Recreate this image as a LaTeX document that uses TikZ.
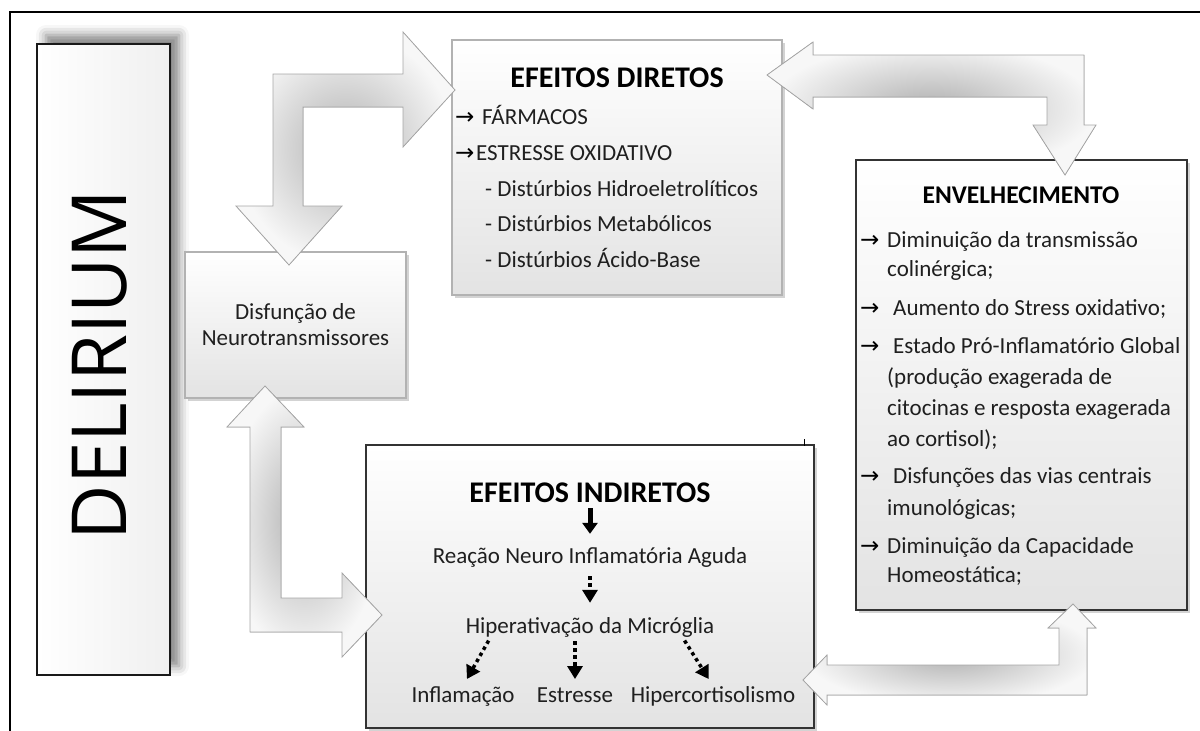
\documentclass[tikz,border=0pt]{standalone}
\usepackage{fontspec}
\setmainfont{Carlito}
\newfontfamily\delfont{Open Sans}
\newfontfamily\symfont{DejaVu Sans}
\usetikzlibrary{arrows.meta,shadows,shadows.blur}
\newcommand\seta{{\symfont →}}

\tikzset{
  caixa/.style={draw=gray!40!black, line width=1.2pt, top color=white, bottom color=gray!22,
    drop shadow={shadow xshift=3pt,shadow yshift=-3pt,opacity=.35}, inner sep=0pt},
  seta bloco/.style={draw=gray!70, line width=0.8pt, inner color=gray!62, outer color=gray!6},
  titulo/.style={font=\bfseries\fontsize{30}{36}\selectfont, anchor=base, inner sep=0pt},
  texto/.style={font=\fontsize{23}{28}\selectfont, text=black!88, anchor=base west, inner sep=0pt},
  seta txt/.style={font=\fontsize{23}{28}\selectfont, anchor=base west, inner sep=0pt},
  seta cheia/.style={line width=5pt, -{Triangle[length=11pt,width=15pt]}},
  seta pont/.style={line width=3.5pt, dash pattern=on 3.5pt off 3.5pt, -{Triangle[length=13pt,width=15pt]}}
}

\begin{document}
\begin{tikzpicture}[x=1pt,y=-1pt]
  \useasboundingbox (0,0) rectangle (1200,731);
  % moldura
  \draw[line width=1.5pt] (10,731) -- (10,12) -- (1200,12);

  % caixas
  \node[draw=gray!20!black, line width=1.2pt, left color=white, right color=gray!12,
    blur shadow={shadow xshift=9pt,shadow yshift=9pt,shadow blur radius=10pt,shadow opacity=50},
    minimum width=133pt, minimum height=631pt] (delirium) at (103.5,359.5) {};
  \node[rotate=90, font=\delfont\fontsize{76}{76}\selectfont, inner sep=0pt] (deltxt) at (100,365) {DELIRIUM};

  \node[caixa, draw=gray!60, minimum width=221pt, minimum height=146pt, align=center,
    font=\fontsize{23}{26}\selectfont, text=black!88] (neuro) at (295.5,325) {Disfunção de\\Neurotransmissores};
  \node[caixa, draw=gray!60, minimum width=330pt, minimum height=255pt] (diretos) at (617,167.5) {};
  \node[caixa, minimum width=331pt, minimum height=450pt] (envelh) at (1021.5,385) {};
  \node[caixa, minimum width=448pt, minimum height=283pt] (indiretos) at (590,586.5) {};
  \draw[line width=1pt] (804,439) -- (804,446);

  % efeitos diretos
  \node[titulo] (tDir) at (617,87) {EFEITOS DIRETOS};
  \node[seta txt] (d1a) at (455,124) {\seta};
  \node[texto] (d1) at (482,124) {FÁRMACOS};
  \node[seta txt] (d2a) at (455,160) {\seta};
  \node[texto] (d2) at (476,160) {ESTRESSE OXIDATIVO};
  \node[texto] (d3) at (485,196) {- Distúrbios Hidroeletrolíticos};
  \node[texto] (d4) at (485,231) {- Distúrbios Metabólicos};
  \node[texto] (d5) at (485,267) {- Distúrbios Ácido-Base};

  % envelhecimento
  \node[titulo, font=\bfseries\fontsize{25.5}{30}\selectfont] (tEnv) at (1021,203) {ENVELHECIMENTO};
  \node[seta txt] (e1a) at (860,247) {\seta};
  \node[texto] (e1) at (887,247) {Diminuição da transmissão};
  \node[texto] (e1b) at (887,276) {colinérgica;};
  \node[seta txt] (e2a) at (860,315) {\seta};
  \node[texto] (e2) at (893,315) {Aumento do Stress oxidativo;};
  \node[seta txt] (e3a) at (860,353) {\seta};
  \node[texto] (e3) at (893,353) {Estado Pró-Inflamatório Global};
  \node[texto] (e3b) at (887,384) {(produção exagerada de};
  \node[texto] (e3c) at (887,415) {citocinas e resposta exagerada};
  \node[texto] (e3d) at (887,446) {ao cortisol);};
  \node[seta txt] (e4a) at (860,483) {\seta};
  \node[texto] (e4) at (893,483) {Disfunções das vias centrais};
  \node[texto] (e4b) at (887,515) {imunológicas;};
  \node[seta txt] (e5a) at (860,553) {\seta};
  \node[texto] (e5) at (887,553) {Diminuição da Capacidade};
  \node[texto] (e5b) at (887,582) {Homeostática;};

  % efeitos indiretos
  \node[titulo] (tInd) at (590,502) {EFEITOS INDIRETOS};
  \node[texto, anchor=base] (reacao) at (590,563) {Reação Neuro Inflamatória Aguda};
  \node[texto, anchor=base] (micro) at (590,633) {Hiperativação da Micróglia};
  \node[texto, anchor=base] (infl) at (463,702) {Inflamação};
  \node[texto, anchor=base] (estr) at (575,702) {Estresse};
  \node[texto, anchor=base] (hiper) at (713,702) {Hipercortisolismo};
  \draw[seta cheia, shorten <=6pt, shorten >=13pt] (tInd) -- (reacao);
  \draw[seta pont, shorten <=9pt, shorten >=14pt] (reacao) -- (micro);
  \draw[seta pont, shorten <=4pt, shorten >=8pt] ([xshift=25pt]micro.south west) -- (infl.north);
  \draw[seta pont, shorten <=4pt, shorten >=8pt] (micro.south -| estr) -- (estr.north);
  \draw[seta pont, shorten <=4pt, shorten >=8pt] ([xshift=-32pt]micro.south east) -- (hiper.north);

  % setas em bloco
  \filldraw[seta bloco] (455,90) -- (403,147) -- (403,107) -- (303,107) -- (303,206) -- (342,206)
    -- (289,265) -- (236,206) -- (273,206) -- (273,74) -- (403,74) -- (403,32) -- cycle;
  \filldraw[seta bloco] (767,75) -- (813,42) -- (813,55) -- (1084,55) -- (1084,125) -- (1096,125)
    -- (1065,175) -- (1033,125) -- (1047,125) -- (1047,97) -- (813,97) -- (813,109) -- cycle;
  \filldraw[seta bloco] (265,386) -- (304,427) -- (281,427) -- (281,598) -- (342,598) -- (342,573)
    -- (382,615) -- (342,657) -- (342,632) -- (250,632) -- (250,427) -- (227,427) -- cycle;
  \filldraw[seta bloco] (803,680) -- (827,655) -- (827,665) -- (1059,665) -- (1059,628) -- (1048,628)
    -- (1073,604) -- (1096,628) -- (1087,628) -- (1087,695) -- (827,695) -- (827,705) -- cycle;
\end{tikzpicture}
\end{document}
